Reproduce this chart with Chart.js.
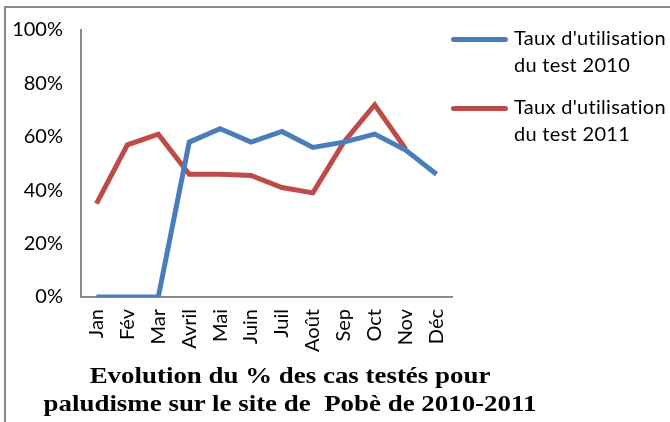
<!DOCTYPE html>
<html>
<head>
<meta charset="utf-8">
<script src="https://cdn.jsdelivr.net/npm/chart.js@4"></script>
<style>
  body { margin: 0; background: #fff; }
  #wrap { position: relative; width: 670px; height: 422px; overflow: hidden; }
  #frame { position: absolute; left: 4px; top: 6px; width: 700px; height: 500px;
           border-left: 2px solid #8a8a8a; border-top: 2px solid #8a8a8a; }
  #chart { position: absolute; left: 0; top: 0; }
  .leg { position: absolute; left: 451px; font-family: Lato, sans-serif; font-size: 20px; color: #000; letter-spacing: 0.3px; }
  .leg .sw { position: absolute; left: 0; width: 57px; height: 5px; border-radius: 3px; }
  .leg .tx { position: absolute; left: 63px; line-height: 27px; white-space: nowrap; }
  #title { position: absolute; left: 40px; width: 500px; top: 362px; text-align: center;
           font-family: "Liberation Serif", serif; font-weight: bold; font-size: 23px; line-height: 28px;
           transform: scaleX(1.17); transform-origin: 250px 0; white-space: nowrap; }
</style>
</head>
<body>
<div id="wrap">
  <div id="frame"></div>
  <canvas id="chart" width="670" height="422"></canvas>
  <div class="leg" style="top:37px"><div class="sw" style="background:#4a7ebb"></div><div class="tx" style="top:-13px">Taux d'utilisation<br>du test 2010</div></div>
  <div class="leg" style="top:106px"><div class="sw" style="background:#be4b48"></div><div class="tx" style="top:-13px">Taux d'utilisation<br>du test 2011</div></div>
  <div id="title">Evolution du % des cas testés pour<br>paludisme sur le site de&nbsp; Pobè de 2010-2011</div>
</div>
<script>
// months
const months = ['Jan', 'Fév', 'Mar', 'Avril', 'Mai', 'Juin', 'Juil', 'Août', 'Sep', 'Oct', 'Nov', 'Déc'];
// taux d'utilisation du test (%)
const taux2010 = [0, 0, 0, 58, 63, 58, 62, 56, 58, 61, 55, 46];
const taux2011 = [35, 57, 61, 46, 46, 45.5, 41, 39, 58, 72, 55.5, null];
const yTicks = [0, 20, 40, 60, 80, 100];

const ctx = document.getElementById('chart').getContext('2d');
new Chart(ctx, {
    type: 'line',
    data: {
        labels: months,
        datasets: [
            { label: "Taux d'utilisation du test 2010", data: taux2010, borderColor: '#4a7ebb', borderWidth: 5, pointRadius: 0, tension: 0 },
            { label: "Taux d'utilisation du test 2011", data: taux2011, borderColor: '#be4b48', borderWidth: 5, pointRadius: 0, tension: 0 }
        ]
    },
    options: {
        responsive: false,
        animation: false,
        layout: { padding: { top: 27, right: 218, left: 0, bottom: 0 } },
        plugins: { legend: { display: false }, tooltip: { enabled: false } },
        scales: {
            x: {
                offset: true,
                grid: { display: false, drawTicks: false },
                border: { color: '#8a8a8a', width: 2 },
                ticks: { color: '#000', font: { family: 'Lato', size: 20 }, minRotation: 90, maxRotation: 90, padding: 12 },
                afterFit: s => { s.height = 125; }
            },
            y: {
                min: 0, max: 100,
                afterBuildTicks: s => { s.ticks = yTicks.map(v => ({ value: v })); },
                grid: { display: false, drawTicks: false },
                border: { color: '#8a8a8a', width: 2 },
                ticks: { color: '#000', font: { family: 'Lato', size: 20 }, padding: 18, callback: v => v + '%' },
                afterFit: s => { s.width = 81; }
            }
        }
    }
});
</script>
</body>
</html>
